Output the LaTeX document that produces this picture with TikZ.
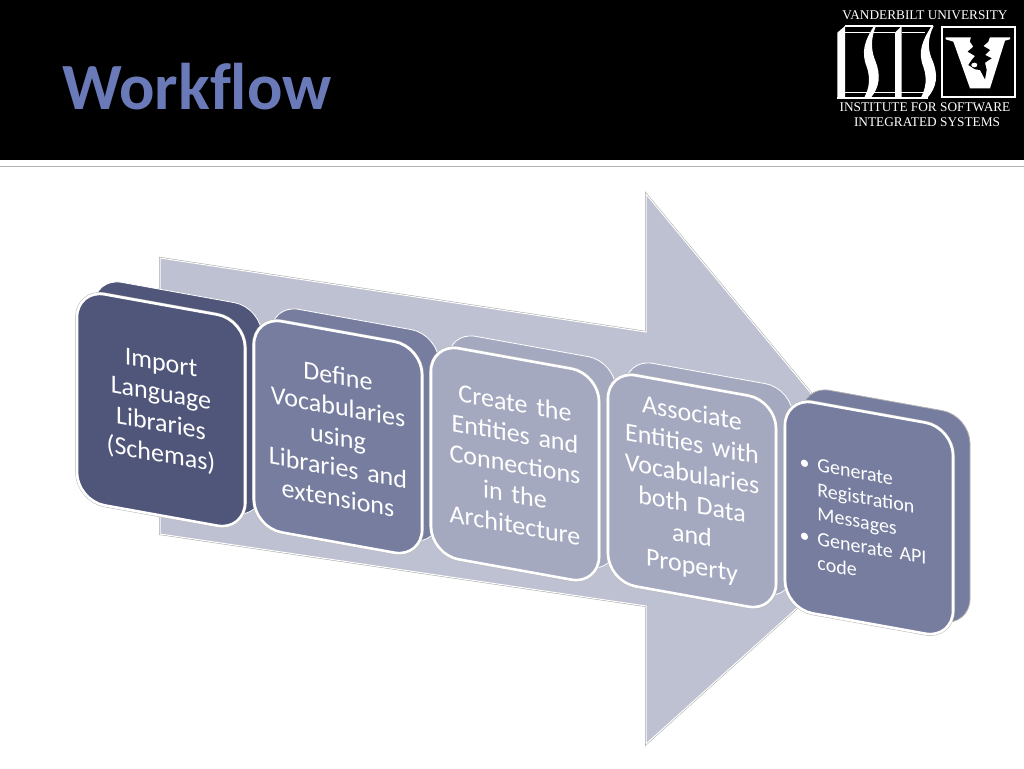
\documentclass[tikz,border=0pt]{standalone}
\usepackage{fontspec}
\setmainfont[WordSpace=0.55]{Carlito}
\newfontfamily\logofont{Liberation Serif}
\usetikzlibrary{positioning}
\definecolor{tonedark}{HTML}{50557A}
\definecolor{tonemid}{HTML}{777D9F}
\definecolor{tonelight}{HTML}{A5A9C0}
\definecolor{arrowfill}{HTML}{BEC1D1}
\definecolor{titleblue}{HTML}{6A7AB8}

\begin{document}
\begin{tikzpicture}[
      x=1pt, y=-1pt,
      frontbox/.style = {rectangle, rounded corners=28pt, yslant=-0.18, transform shape, minimum width=168pt, minimum height=211pt, text width=158pt, align=center, inner sep=0pt, text=white, font=\fontsize{26}{30.5}\selectfont, preaction={draw=gray!55, line width=3.6pt}, draw=white, line width=2.6pt},
      backbox/.style = {rectangle, rounded corners=28pt, yslant=-0.18, transform shape, minimum width=168pt, minimum height=211pt, draw=white, line width=0.8pt},
      logotext/.style = {text=white, inner sep=0pt, font=\logofont\fontsize{13.3}{15}\selectfont}
    ]
    \useasboundingbox (0,0) rectangle (1024,768);
    % header band
    \fill[black] (0,0) rectangle (1024,160);
    \fill[gray!60] (0,165.8) rectangle (1024,167.4);
    \node[text=titleblue, inner sep=0pt, anchor=base west, font=\fontsize{66}{66}\selectfont\bfseries] (title) at (62,109) {Workf\kern0pt low};
    % logo
    \node[logotext] (univ) at (925,15) {VANDERBILT UNIVERSITY};
    \node[logotext] (inst) at (925,107) {INSTITUTE FOR SOFTWARE};
    \node[logotext] (sys) at (927,122) {INTEGRATED SYSTEMS};
    \begin{scope}[shift={(830,20)}, x=0.3333pt, y=-0.3333pt]
      \draw[white, line width=1.3pt] (45,18) -- (310,18) (45,38) -- (120,38) (215,38) -- (285,38) (125,38) -- (195,38) (22,234) -- (295,234);
      \draw[white, line width=0.6pt] (45,216) -- (285,216);
      \fill[white] (22,38) -- (45,18) -- (45,234) -- (22,234) -- cycle;
      \fill[white] (195,38) -- (215,18) -- (215,234) -- (195,234) -- cycle;
      \fill[white] (132,18) .. controls (105,60) and (92,95) .. (110,140) .. controls (122,175) and (118,205) .. (102,234) -- (122,234) .. controls (150,200) and (152,165) .. (137,125) .. controls (122,90) and (122,55) .. (138,18) -- cycle;
      \fill[white] (305,18) .. controls (278,60) and (262,95) .. (280,140) .. controls (292,175) and (288,205) .. (272,234) -- (292,234) .. controls (322,200) and (324,165) .. (309,125) .. controls (292,90) and (292,55) .. (311,18) -- cycle;
    \end{scope}
    \begin{scope}[shift={(935,20)}, x=0.3333pt, y=-0.3333pt]
      \draw[white, line width=2pt] (20,20) rectangle (241,230);
      \fill[white] (32,52) -- (225,52) -- (225,58) -- (210,62) -- (165,205) -- (105,205) -- (55,65) -- (32,58) -- cycle;
      \fill[black] (108,50) -- (165,50) -- (160,65) -- (145,78) -- (165,90) -- (150,105) -- (170,115) -- (150,128) -- (155,150) -- (150,178) -- (135,150) -- (120,148) -- (100,135) -- (110,120) -- (120,108) -- (98,95) -- (115,80) -- (105,65) -- cycle;
      \fill[white] (118,135) ellipse (9 and 7);
    \end{scope}
    % big arrow behind the steps
    \draw[fill=arrowfill, preaction={draw=gray!70, line width=2pt}, draw=white, line width=1pt] (160,258) -- (646,332) -- (646,194) -- (907,509) -- (646,744) -- (646,606) -- (160,534) -- cycle;
    % steps
    \node[backbox, fill=tonedark] (impb) at (178,398) {};
    \node[frontbox, fill=tonedark, below left=12pt and 17pt of impb.center, anchor=center] (imp) {Import\\Language\\Libraries\\(Schemas)};
    \node[backbox, fill=tonemid] (vocb) at (355,425) {};
    \node[frontbox, fill=tonemid, below left=12pt and 17pt of vocb.center, anchor=center] (voc) {Define\\Vocabularies\\using\\Libraries and\\extensions};
    \node[backbox, fill=tonelight] (entb) at (532,452) {};
    \node[frontbox, fill=tonelight, below left=12pt and 17pt of entb.center, anchor=center] (ent) {Create the\\Entities and\\Connections\\in the\\Architecture};
    \node[backbox, fill=tonelight] (assb) at (709,479) {};
    \node[frontbox, fill=tonelight, below left=12pt and 17pt of assb.center, anchor=center] (ass) {Associate\\Entities with\\Vocabularies\\both Data\\and\\Property};
    \node[backbox, fill=tonemid, draw=gray!60] (genb) at (886,506) {};
    \node[frontbox, fill=tonemid, below left=12pt and 17pt of genb.center, anchor=center, font=\fontsize{20}{24.5}\selectfont] (gen) {\hspace*{-12pt}\raisebox{-7pt}[\height][\depth]{\begin{tabular}{@{}l@{\hspace{8pt}}l@{}}\textbullet & Generate\\ & Registration\\ & Messages\\ \textbullet & Generate API\\ & code\end{tabular}}};
  \end{tikzpicture}
\end{document}
